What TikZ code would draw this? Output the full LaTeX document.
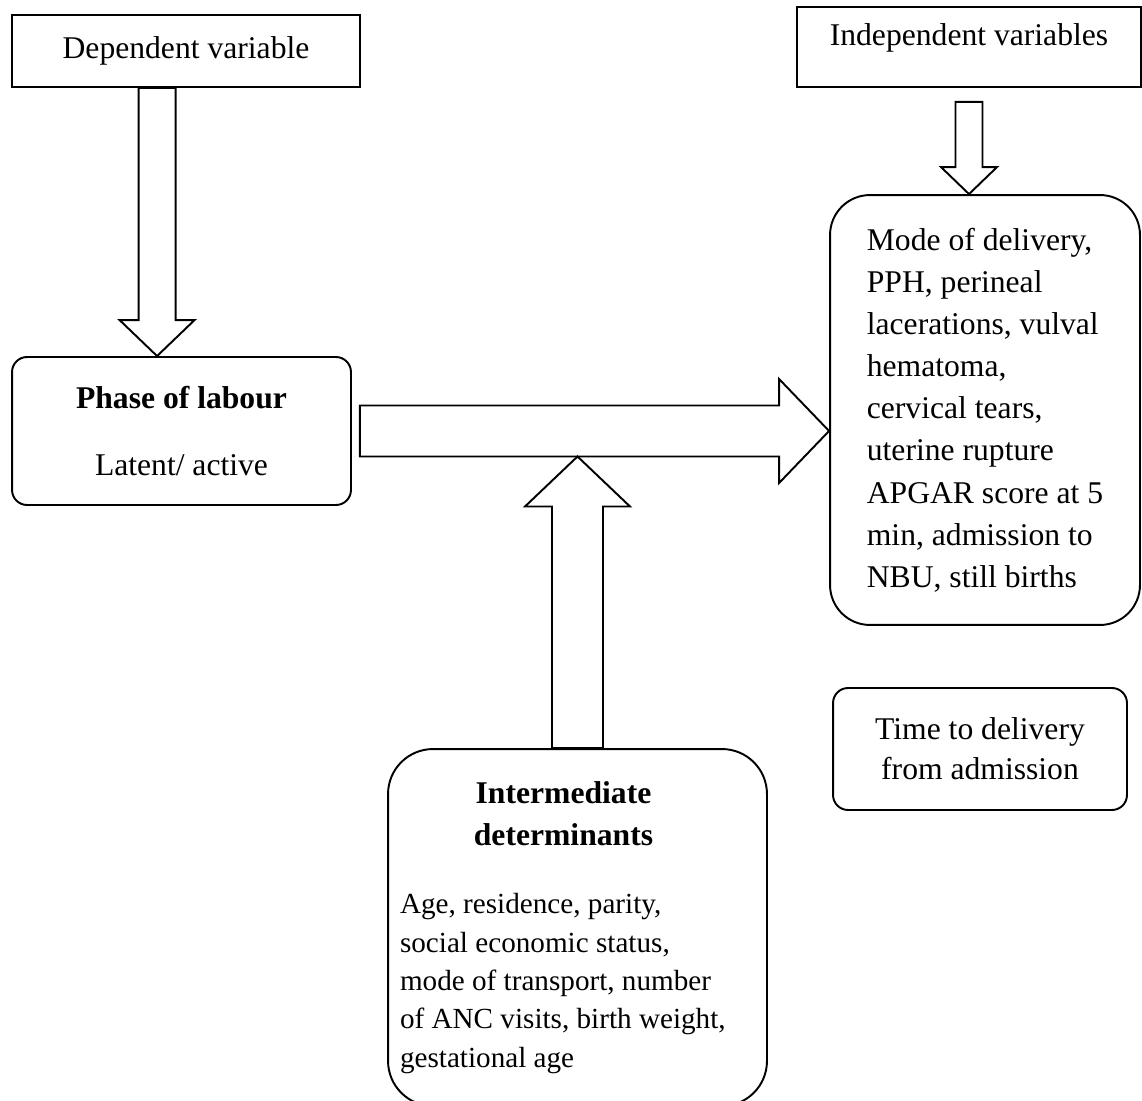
\documentclass[tikz,border=0pt]{standalone}
\usepackage{fontspec}
\setmainfont{Liberation Serif}
\usepackage{tikz}
\usetikzlibrary{calc}
\newcommand{\mainsize}{\fontsize{18}{24}\selectfont}
\newcommand{\bodysize}{\fontsize{16.6}{21.8}\selectfont}
% Hollow block arrow from #1 to the tip #2: shaft half width #3,
% head half width #4, head length #5 (all real lengths).
\newcommand{\hollowarrow}[5]{%
  \coordinate (hw-base) at ($(#2)!#5!(#1)$);
  \draw[blockline] ($(#1)!#3!90:(#2)$) -- ($(hw-base)!#3!90:(#2)$)
    -- ($(hw-base)!#4!90:(#2)$) -- (#2) -- ($(hw-base)!#4!-90:(#2)$)
    -- ($(hw-base)!#3!-90:(#2)$) -- ($(#1)!#3!-90:(#2)$) -- cycle;
}

\begin{document}
\begin{tikzpicture}[x=0.02cm, y=-0.02cm, line join=miter,
    plainbox/.style={draw, line width=1.1pt, font=\mainsize, inner sep=0pt},
    softbox/.style={plainbox, rounded corners=#1},
    softbox/.default=3mm,
    blockline/.style={draw, fill=white, line width=1.1pt}]
  \path[use as bounding box, clip] (0,0) rectangle (1142,1101);

  % Left column: the dependent variable and the phase of labour.
  \node[plainbox, minimum width=6.96cm, minimum height=1.44cm]
    (dep) at (186,51) {Dependent variable};
  \node[softbox, minimum width=6.78cm, minimum height=2.96cm, align=center]
    (phase) at (181.5,431) {\textbf{Phase of labour}\\[14pt] Latent/ active};

  % Right column: independent variables, outcomes, time to delivery.
  \node[plainbox, minimum width=6.88cm, minimum height=1.6cm, text depth=0.5cm]
    (indep) at (969,47) {Independent variables};
  \node[softbox=8mm, minimum width=6.2cm, minimum height=8.6cm, align=left]
    (outc) at (985,410) {Mode of delivery,\\ PPH, perineal\\
      lacerations, vulval\\ hematoma,\\ cervical tears,\\ uterine rupture\\
      APGAR score at 5\\ min, admission to\\ NBU, still births};
  \node[softbox, minimum width=5.88cm, minimum height=2.44cm, align=center,
    font=\fontsize{18}{22.8}\selectfont]
    (time) at (980,749) {Time to delivery\\ from admission};

  % Bottom: the intermediate determinants, cut by the page edge.
  \node[softbox=9mm, minimum height=7.14cm, text width=7.1cm, inner xsep=0.24cm,
    align=flush left]
    (inter) at (577.5,927.5) {%
      \makebox[6.54cm]{\bfseries Intermediate}\\
      \makebox[6.54cm]{\bfseries determinants}\par
      \vspace{17pt}
      {\noindent\bodysize Age, residence, parity,\\
      social economic status,\\ mode of transport, number\\
      of ANC visits, birth weight,\\ gestational age\par}};

  % Block arrows between the boxes.
  \coordinate (deptip) at ($(phase.north west)+(146,0)$);
  \coordinate (deptail) at (deptip |- dep.south);
  \hollowarrow{deptail}{deptip}{3.7mm}{7.5mm}{7.2mm}

  \coordinate (maintail) at ($(phase.east)+(8,0)$);
  \coordinate (maintip) at (outc.west |- phase.east);
  \hollowarrow{maintail}{maintip}{5.1mm}{10.4mm}{10mm}

  \coordinate (uptip) at ($(inter.north |- phase.east)+(0,25.5)$);
  \hollowarrow{inter.north}{uptip}{5.1mm}{10.5mm}{10mm}

  \coordinate (indtail) at ($(indep.south)+(0,14)$);
  \coordinate (indtip) at (indep.south |- outc.north);
  \hollowarrow{indtail}{indtip}{2.7mm}{5.6mm}{5.4mm}
\end{tikzpicture}
\end{document}
